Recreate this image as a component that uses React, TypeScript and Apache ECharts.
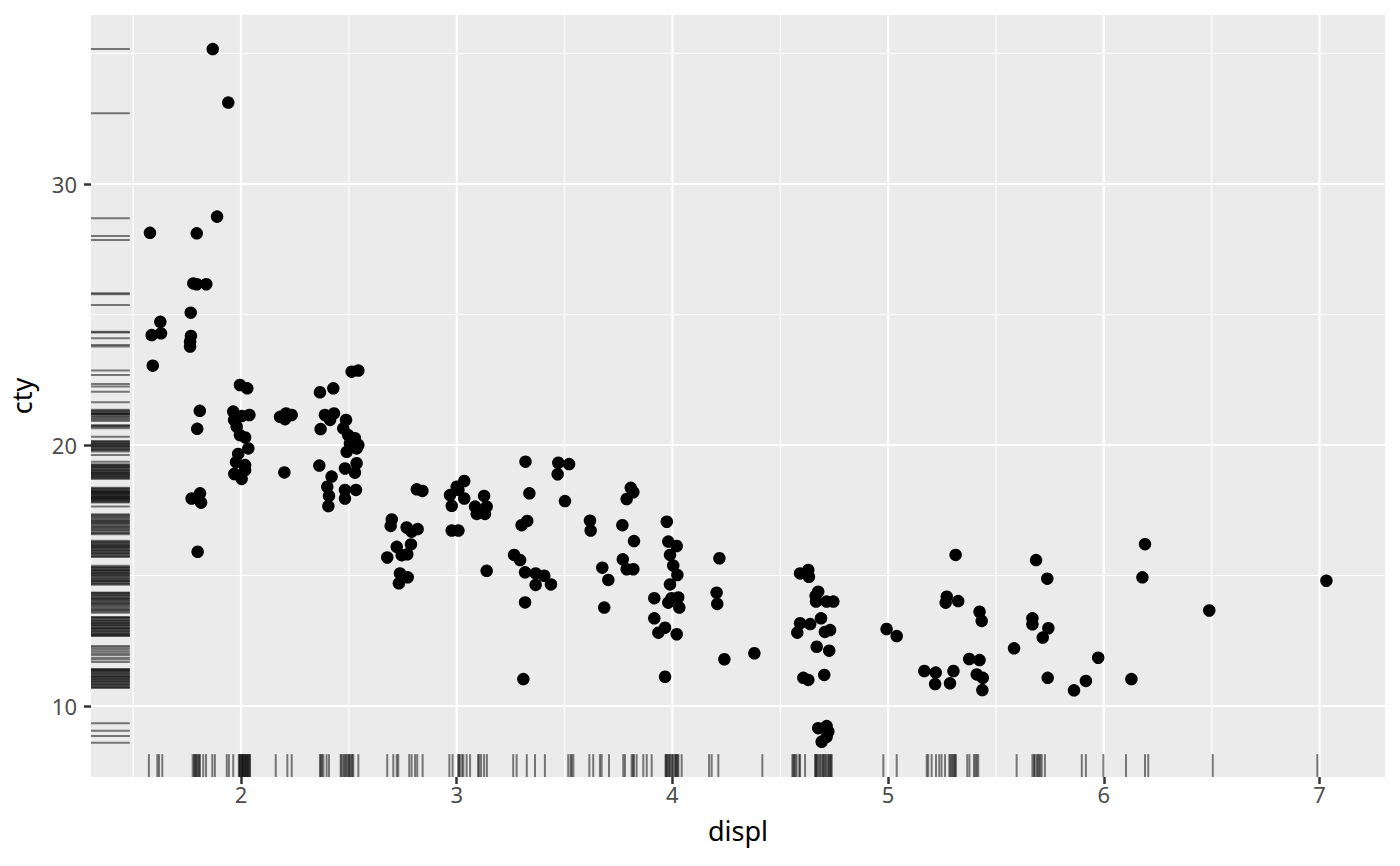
import { useEffect, useRef } from "react";
import * as echarts from "echarts";

// jittered points (displ, cty)
const DISPL = [
  1.869, 1.941, 1.889, 1.578, 1.795, 1.779, 1.795, 1.839, 1.767, 1.626, 1.586, 1.629, 1.768, 1.764, 1.764, 1.591,
  1.809, 1.797, 1.771, 1.81, 1.815, 1.799,
  1.995, 2.029, 1.964, 1.968, 2.003, 2.039, 1.98, 1.995, 2.019, 2.034, 1.987, 1.977, 2.019, 1.969, 2.003, 2.019,
  2.181, 2.209, 2.235, 2.204, 2.201,
  2.366, 2.428, 2.513, 2.544, 2.389, 2.431, 2.413, 2.369, 2.487, 2.474, 2.497, 2.528, 2.544, 2.505, 2.49, 2.536,
  2.363, 2.42, 2.482, 2.536, 2.528, 2.4, 2.408, 2.405, 2.482, 2.482, 2.533,
  2.699, 2.694, 2.768, 2.819, 2.791, 2.722, 2.788, 2.745, 2.771, 2.678, 2.737, 2.773, 2.732, 2.815, 2.841,
  2.969, 3.0, 3.035, 3.035, 2.977, 3.008, 2.977, 3.008, 3.085, 3.093, 3.131, 3.139, 3.127, 3.139,
  3.319, 3.337, 3.471, 3.521, 3.468, 3.502, 3.301, 3.327, 3.266, 3.294, 3.317, 3.366, 3.406, 3.366, 3.437, 3.317, 3.309,
  3.618, 3.621, 3.675, 3.703, 3.684, 3.768, 3.807, 3.819, 3.788, 3.822, 3.77, 3.788, 3.819,
  3.974, 3.981, 4.02, 3.989, 4.004, 4.023, 3.989, 3.916, 3.981, 4.027, 4.032, 3.996, 3.916, 3.966, 3.935, 4.02, 3.966,
  4.218, 4.205, 4.208, 4.241, 4.38,
  4.592, 4.63, 4.633, 4.676, 4.666, 4.715, 4.746, 4.689, 4.592, 4.639, 4.579, 4.707, 4.731, 4.669, 4.727, 4.607,
  4.63, 4.704, 4.676, 4.715, 4.723, 4.692, 4.715, 4.664,
  4.993, 5.04,
  5.313, 5.272, 5.267, 5.325, 5.424, 5.434, 5.376, 5.424, 5.168, 5.221, 5.218, 5.303, 5.287, 5.411, 5.439, 5.437,
  5.584, 5.686, 5.738, 5.669, 5.669, 5.743, 5.717, 5.74, 5.862, 5.917, 5.974, 6.128, 6.191, 6.179, 6.489, 7.032,
];
const CTY = [
  35.17, 33.12, 28.75, 28.13, 28.11, 26.19, 26.16, 26.16, 25.07, 24.72, 24.21, 24.28, 24.18, 23.96, 23.77, 23.04,
  21.31, 20.62, 17.95, 18.15, 17.79, 15.91,
  22.3, 22.17, 21.28, 20.96, 21.11, 21.15, 20.7, 20.38, 20.29, 19.87, 19.66, 19.34, 19.23, 18.89, 18.7, 19.04,
  21.08, 21.21, 21.15, 20.99, 18.95,
  22.02, 22.17, 22.81, 22.85, 21.15, 21.21, 20.96, 20.61, 20.96, 20.64, 20.38, 20.26, 20.0, 20.06, 19.74, 19.87,
  19.21, 18.79, 19.1, 19.3, 18.94, 18.4, 18.05, 17.66, 18.28, 17.95, 18.28,
  17.15, 16.9, 16.84, 16.78, 16.68, 16.1, 16.19, 15.78, 15.81, 15.69, 15.08, 14.93, 14.7, 18.3, 18.24,
  18.08, 18.4, 18.62, 17.95, 17.67, 18.28, 16.72, 16.72, 17.64, 17.36, 17.36, 17.64, 18.05, 15.18,
  19.36, 18.15, 19.32, 19.27, 18.88, 17.85, 16.93, 17.09, 15.79, 15.59, 15.12, 15.08, 14.99, 14.64, 14.66, 13.97, 11.03,
  17.1, 16.72, 15.3, 14.83, 13.77, 16.93, 18.36, 18.19, 17.93, 16.32, 15.62, 15.24, 15.24,
  17.06, 16.3, 16.13, 15.79, 15.38, 15.02, 14.66, 14.13, 13.96, 14.16, 13.77, 14.13, 13.36, 13.0, 12.81, 12.75, 11.12,
  15.66, 14.34, 13.91, 11.79, 12.02,
  15.08, 15.21, 14.95, 14.38, 14.0, 14.0, 14.0, 13.36, 13.17, 13.14, 12.81, 12.84, 12.91, 12.27, 12.12, 11.08,
  11.0, 11.19, 9.15, 9.23, 9.02, 8.63, 8.82, 14.22,
  12.95, 12.68,
  15.79, 14.19, 13.96, 14.02, 13.61, 13.26, 11.8, 11.76, 11.34, 11.28, 10.84, 11.34, 10.87, 11.21, 11.08, 10.61,
  12.21, 15.59, 14.88, 13.36, 13.13, 12.98, 12.62, 11.08, 10.6, 10.96, 11.85, 11.03, 16.2, 14.93, 13.66, 14.8,
];

// rug positions (drawn with their own jitter)
const RUG_Y = [
  35.17, 32.71, 28.69, 28.01, 27.85, 25.81, 25.78, 25.36, 24.34, 24.31, 24.09, 23.83, 23.77, 22.85, 22.68, 22.34,
  22.24, 22.04,
  21.64, 21.35, 21.31, 21.28, 21.24, 21.21, 21.19, 21.17, 21.12, 21.07, 21.02, 20.98, 20.92, 20.76, 20.74, 20.7, 20.64,
  20.32, 20.15, 20.12, 20.09, 20.06, 20.03, 20.0, 19.96, 19.93, 19.9, 19.86, 19.83, 19.8, 19.75, 19.62,
  19.36, 19.26, 19.23, 19.2, 19.17, 19.14, 19.11, 19.06, 19.03, 19.01, 18.97, 18.94, 18.92, 18.88, 18.86, 18.83,
  18.79, 18.77, 18.74, 18.7,
  18.36, 18.33, 18.3, 18.27, 18.24, 18.21, 18.19, 18.17, 18.14, 18.12, 18.09, 18.06, 18.04, 18.01, 17.99, 17.96,
  17.94, 17.92, 17.88, 17.86, 17.83, 17.8, 17.64,
  17.35, 17.31, 17.27, 17.22, 17.18, 17.13, 17.09, 17.05, 17.01, 16.97, 16.92, 16.88, 16.84, 16.8, 16.75, 16.71,
  16.65, 16.62, 16.58,
  16.33, 16.29, 16.26, 16.23, 16.19, 16.16, 16.13, 16.09, 16.06, 16.03, 15.99, 15.96, 15.93, 15.88, 15.85, 15.82,
  15.77, 15.74, 15.71,
  15.37, 15.33, 15.3, 15.27, 15.22, 15.2, 15.17, 15.12, 15.1, 15.07, 15.03, 15.0, 14.97, 14.92, 14.89, 14.86, 14.81,
  14.79, 14.76, 14.7, 14.68, 14.65,
  14.35, 14.33, 14.3, 14.25, 14.22, 14.19, 14.14, 14.11, 14.08, 14.04, 14.0, 13.96, 13.93, 13.89, 13.85, 13.8,
  13.75, 13.7, 13.67, 13.62, 13.57,
  13.41, 13.39, 13.36, 13.31, 13.28, 13.26, 13.2, 13.18, 13.15, 13.1, 13.08, 13.05, 13.0, 12.98, 12.95, 12.9, 12.87,
  12.84, 12.79, 12.76, 12.73, 12.7, 12.68,
  12.3, 12.24, 12.17, 12.1, 12.02, 11.95, 11.85, 11.78, 11.69,
  11.42, 11.4, 11.38, 11.34, 11.31, 11.27, 11.24, 11.21, 11.16, 11.13, 11.11, 11.06, 11.03, 11.01, 10.96, 10.93,
  10.9, 10.85, 10.82, 10.8, 10.75, 10.72, 10.69,
  9.34, 9.05, 8.85, 8.59,
];
const RUG_X = [
  1.573, 1.612, 1.62, 1.635, 1.776, 1.782, 1.787, 1.791, 1.795, 1.801, 1.806, 1.81, 1.825, 1.838, 1.867, 1.879,
  1.934, 1.944, 1.964, 1.99, 1.993, 1.995, 1.999, 2.003, 2.005, 2.008, 2.01, 2.014, 2.018, 2.02, 2.023, 2.027,
  2.03, 2.032, 2.036, 2.04, 2.042, 2.161, 2.215, 2.235, 2.366, 2.37, 2.376, 2.382, 2.397, 2.408, 2.462, 2.466,
  2.474, 2.48, 2.485, 2.49, 2.497, 2.501, 2.505, 2.512, 2.516, 2.521, 2.544,
  2.678, 2.706, 2.722, 2.729, 2.78, 2.791, 2.807, 2.817, 2.842, 2.966, 2.981, 3.007, 3.01, 3.015, 3.025, 3.031,
  3.046, 3.062, 3.099, 3.104, 3.113, 3.127, 3.14, 3.262, 3.278, 3.325,
  3.363, 3.409, 3.517, 3.528, 3.533, 3.541, 3.615, 3.633, 3.664, 3.672, 3.706, 3.772, 3.78, 3.811, 3.817, 3.822,
  3.834, 3.865, 3.881, 3.904, 3.968, 3.971, 3.974, 3.98, 3.985, 3.989, 3.996, 4.0, 4.004, 4.012, 4.016, 4.02,
  4.024, 4.028, 4.043, 4.17, 4.182, 4.213,
  4.417, 4.556, 4.561, 4.565, 4.57, 4.576, 4.588, 4.592, 4.615, 4.661, 4.665, 4.668, 4.672, 4.678, 4.684, 4.69,
  4.697, 4.7, 4.705, 4.71, 4.715, 4.722, 4.726, 4.731, 4.735, 4.739, 4.978, 5.04, 5.179, 5.186,
  5.202, 5.222, 5.237, 5.248, 5.264, 5.284, 5.289, 5.295, 5.3, 5.306, 5.31, 5.315, 5.367, 5.377, 5.398, 5.405,
  5.411, 5.418, 5.596, 5.669, 5.676, 5.68, 5.689, 5.694, 5.7, 5.706, 5.712, 5.727, 5.898, 5.917, 5.998, 6.103,
  6.191, 6.206, 6.505, 6.99,
];

const X_TICKS = [2, 3, 4, 5, 6, 7];
const X_MINOR = [1.5, 2.5, 3.5, 4.5, 5.5, 6.5];
const Y_TICKS = [10, 20, 30];
const Y_MINOR = [15, 25, 35];

const X_MIN = 1.3046;
const X_MAX = 7.3037;
const Y_MIN = 7.28;
const Y_MAX = 36.475;
const RUG_LEN = 0.03;

const FONT = "'Noto Sans', 'Open Sans', sans-serif";

export default function App() {
  const ref = useRef<HTMLDivElement>(null);

  useEffect(() => {
    if (!ref.current) return;
    const chart = echarts.init(ref.current, null, { renderer: "svg" });

    const vLine = (width: number) => (params: any, api: any) => {
      const x = api.coord([api.value(0), Y_MIN])[0];
      const cs = params.coordSys;
      return {
        type: "line",
        shape: { x1: x, y1: cs.y, x2: x, y2: cs.y + cs.height },
        style: { stroke: "#ffffff", lineWidth: width },
      };
    };
    const hLine = (width: number) => (params: any, api: any) => {
      const y = api.coord([X_MIN, api.value(1)])[1];
      const cs = params.coordSys;
      return {
        type: "line",
        shape: { x1: cs.x, y1: y, x2: cs.x + cs.width, y2: y },
        style: { stroke: "#ffffff", lineWidth: width },
      };
    };

    const rugStyle = { stroke: "rgba(0,0,0,0.5)", lineWidth: 2 };

    chart.setOption({
      animation: false,
      backgroundColor: "#ffffff",
      grid: {
        left: 91,
        top: 15,
        right: 15,
        bottom: 89,
        show: true,
        backgroundColor: "#EBEBEB",
        borderWidth: 0,
      },
      xAxis: {
        type: "value",
        min: X_MIN,
        max: X_MAX,
        name: "displ",
        nameLocation: "middle",
        nameGap: 40,
        nameTextStyle: { color: "#000000", fontSize: 27, fontFamily: FONT },
        axisLine: { show: false },
        splitLine: { show: false },
        axisTick: {
          show: true,
          length: 7,
          customValues: X_TICKS,
          lineStyle: { color: "#333333", width: 2.5 },
        },
        axisLabel: {
          customValues: X_TICKS,
          margin: 6,
          color: "#4D4D4D",
          fontSize: 22,
          fontFamily: FONT,
        },
      },
      yAxis: {
        type: "value",
        min: Y_MIN,
        max: Y_MAX,
        name: "cty",
        nameLocation: "middle",
        nameGap: 56,
        nameTextStyle: { color: "#000000", fontSize: 27, fontFamily: FONT },
        axisLine: { show: false },
        splitLine: { show: false },
        axisTick: {
          show: true,
          length: 7,
          customValues: Y_TICKS,
          lineStyle: { color: "#333333", width: 2.5 },
        },
        axisLabel: {
          customValues: Y_TICKS,
          margin: 14,
          color: "#4D4D4D",
          fontSize: 22,
          fontFamily: FONT,
        },
      },
      series: [
        {
          type: "custom",
          z: 1,
          silent: true,
          data: X_MINOR.map((v) => [v, Y_MIN]),
          renderItem: vLine(1.1),
        },
        {
          type: "custom",
          z: 1,
          silent: true,
          data: Y_MINOR.map((v) => [X_MIN, v]),
          renderItem: hLine(1.1),
        },
        {
          type: "custom",
          z: 1,
          silent: true,
          data: X_TICKS.map((v) => [v, Y_MIN]),
          renderItem: vLine(2.2),
        },
        {
          type: "custom",
          z: 1,
          silent: true,
          data: Y_TICKS.map((v) => [X_MIN, v]),
          renderItem: hLine(2.2),
        },
        {
          type: "custom",
          z: 2,
          silent: true,
          data: RUG_Y.map((v) => [X_MIN, v]),
          renderItem: (params: any, api: any) => {
            const y = api.value(1);
            const p0 = api.coord([X_MIN, y]);
            const p1 = api.coord([X_MIN + RUG_LEN * (X_MAX - X_MIN), y]);
            return {
              type: "line",
              shape: { x1: p0[0], y1: p0[1], x2: p1[0], y2: p1[1] },
              style: rugStyle,
            };
          },
        },
        {
          type: "custom",
          z: 2,
          silent: true,
          data: RUG_X.map((v) => [v, Y_MIN]),
          renderItem: (params: any, api: any) => {
            const x = api.value(0);
            const p0 = api.coord([x, Y_MIN]);
            const p1 = api.coord([x, Y_MIN + RUG_LEN * (Y_MAX - Y_MIN)]);
            return {
              type: "line",
              shape: { x1: p0[0], y1: p0[1], x2: p1[0], y2: p1[1] },
              style: rugStyle,
            };
          },
        },
        {
          type: "scatter",
          z: 3,
          symbolSize: 12.5,
          itemStyle: { color: "#000000", opacity: 1 },
          data: DISPL.map((d, i) => [d, CTY[i]]),
        },
      ],
    });

    return () => chart.dispose();
  }, []);

  return (
    <div
      ref={ref}
      style={{ position: "absolute", left: 0, top: 0, width: 1400, height: 866 }}
    />
  );
}
